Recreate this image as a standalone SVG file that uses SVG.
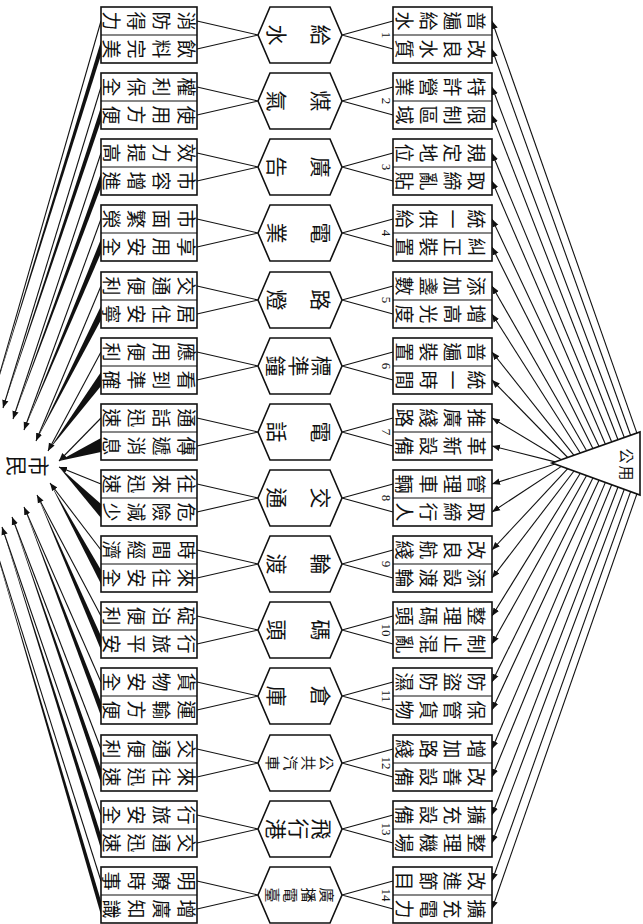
<svg xmlns="http://www.w3.org/2000/svg" width="643" height="924" viewBox="0 0 643 924">
<defs>
<style>
.bx{fill:#fff;stroke:#111;stroke-width:1.6}
.ln{fill:none;stroke:#111;stroke-width:1.1}
.c{font-family:"Noto Sans CJK TC","Noto Sans CJK SC",sans-serif;font-size:19px;text-anchor:middle;dominant-baseline:central;fill:#111}
.h{font-family:"Noto Sans CJK TC","Noto Sans CJK SC",sans-serif;font-size:21px;text-anchor:middle;dominant-baseline:central;fill:#111}
.hs{font-family:"Noto Sans CJK TC","Noto Sans CJK SC",sans-serif;font-size:15px;text-anchor:middle;dominant-baseline:central;fill:#111}
.n{font-family:"Liberation Serif",serif;font-size:13px;text-anchor:middle;dominant-baseline:central;fill:#111}
.w{fill:#111;stroke:none}
</style>
<marker id="ah" viewBox="0 0 10 10" refX="10" refY="5" markerWidth="8" markerHeight="8" orient="auto" markerUnits="userSpaceOnUse"><path d="M0,1 L10,5 L0,9 z" fill="#111"/></marker>
</defs>
<rect width="643" height="924" fill="#fff"/>

<g id="connectors">
<path class="ln" d="M197,21L258,35L197,49 M342,35L393,21 M342,35L393,49
M197,87L258,101L197,115 M342,101L393,87 M342,101L393,115
M197,153L258,167L197,181 M342,167L393,153 M342,167L393,181
M197,219L258,233L197,247 M342,233L393,219 M342,233L393,247
M197,286L258,300L197,314 M342,300L393,286 M342,300L393,314
M197,352L258,366L197,380 M342,366L393,352 M342,366L393,380
M197,418L258,432L197,446 M342,432L393,418 M342,432L393,446
M197,484L258,498L197,512 M342,498L393,484 M342,498L393,512
M197,550L258,564L197,578 M342,564L393,550 M342,564L393,578
M197,616L258,630L197,644 M342,630L393,616 M342,630L393,644
M197,682L258,696L197,710 M342,696L393,682 M342,696L393,710
M197,749L258,763L197,777 M342,763L393,749 M342,763L393,777
M197,815L258,829L197,843 M342,829L393,815 M342,829L393,843
M197,881L258,895L197,909 M342,895L393,881 M342,895L393,909"/>
<g class="ln" marker-end="url(#ah)">
<line x1="636.9" y1="433.1" x2="492" y2="21"/><line x1="630.6" y1="435.3" x2="492" y2="49"/>
<line x1="624.3" y1="437.5" x2="492" y2="87"/><line x1="618" y1="439.8" x2="492" y2="115"/>
<line x1="611.7" y1="442" x2="492" y2="153"/><line x1="605.4" y1="444.2" x2="492" y2="181"/>
<line x1="599.1" y1="446.4" x2="492" y2="219"/><line x1="592.9" y1="448.6" x2="492" y2="247"/>
<line x1="586.6" y1="450.8" x2="492" y2="286"/><line x1="580.3" y1="453" x2="492" y2="314"/>
<line x1="574" y1="455.3" x2="492" y2="352"/><line x1="567.7" y1="457.5" x2="492" y2="380"/>
<line x1="561.4" y1="459.7" x2="492" y2="418"/><line x1="555.1" y1="461.9" x2="492" y2="446"/>
<line x1="555.1" y1="464.1" x2="492" y2="484"/><line x1="561.4" y1="466.4" x2="492" y2="512"/>
<line x1="567.7" y1="468.7" x2="492" y2="550"/><line x1="574" y1="471" x2="492" y2="578"/>
<line x1="580.3" y1="473.3" x2="492" y2="616"/><line x1="586.6" y1="475.6" x2="492" y2="644"/>
<line x1="592.9" y1="477.9" x2="492" y2="682"/><line x1="599.1" y1="480.1" x2="492" y2="710"/>
<line x1="605.4" y1="482.4" x2="492" y2="749"/><line x1="611.7" y1="484.7" x2="492" y2="777"/>
<line x1="618" y1="487" x2="492" y2="815"/><line x1="624.3" y1="489.3" x2="492" y2="843"/>
<line x1="630.6" y1="491.6" x2="492" y2="881"/><line x1="636.9" y1="493.9" x2="492" y2="909"/>
</g>
<g class="ln" marker-end="url(#ah)">
<line x1="101" y1="21" x2="-7" y2="397"/>
<line x1="101" y1="87" x2="3" y2="408"/>
<line x1="101" y1="153" x2="13" y2="419"/>
<line x1="101" y1="219" x2="24" y2="430"/>
<line x1="101" y1="286" x2="36" y2="441"/>
<line x1="101" y1="352" x2="48" y2="451"/>
<line x1="101" y1="418" x2="59" y2="461"/>
<line x1="101" y1="484" x2="59" y2="467"/>
<line x1="101" y1="550" x2="50" y2="483"/>
<line x1="101" y1="616" x2="37" y2="495"/>
<line x1="101" y1="682" x2="24" y2="507"/>
<line x1="101" y1="749" x2="12" y2="517"/>
<line x1="101" y1="815" x2="2" y2="527"/>
<line x1="101" y1="881" x2="-8" y2="537"/>
</g>
<g class="w">
<polygon points="-7,397 101,41 101,55"/>
<polygon points="3,408 101,107 101,121"/>
<polygon points="13,419 101,173 101,187"/>
<polygon points="24,430 101,239 101,253"/>
<polygon points="36,441 101,306 101,320"/>
<polygon points="48,451 101,372 101,386"/>
<polygon points="59,461 101,438 101,452"/>
<polygon points="59,467 101,504 101,518"/>
<polygon points="50,483 101,570 101,584"/>
<polygon points="37,495 101,636 101,650"/>
<polygon points="24,507 101,702 101,716"/>
<polygon points="12,517 101,769 101,783"/>
<polygon points="2,527 101,835 101,849"/>
<polygon points="-8,537 101,901 101,915"/>
</g>
</g>

<g id="public-utilities">
<polygon class="bx" points="552,463 640,432 640,495"/>
<text class="hs" x="627" y="456" transform="rotate(90 627 456)">公</text>
<text class="hs" x="627" y="473" transform="rotate(90 627 473)">用</text>
</g>

<g id="citizens">
<text class="h" x="40" y="466" transform="rotate(90 40 466)">市</text>
<text class="h" x="18" y="466" transform="rotate(90 18 466)">民</text>
</g>

<g id="benefit-1" transform="translate(0,7)"><rect class="bx" x="101" y="0" width="96" height="56"/><line class="ln" x1="101" y1="28" x2="197" y2="28"/>
<text class="c" x="187" y="14" transform="rotate(90 187 14)">消</text><text class="c" x="162" y="14" transform="rotate(90 162 14)">防</text><text class="c" x="137" y="14" transform="rotate(90 137 14)">得</text><text class="c" x="112" y="14" transform="rotate(90 112 14)">力</text>
<text class="c" x="187" y="42" transform="rotate(90 187 42)">飲</text><text class="c" x="162" y="42" transform="rotate(90 162 42)">料</text><text class="c" x="137" y="42" transform="rotate(90 137 42)">完</text><text class="c" x="112" y="42" transform="rotate(90 112 42)">美</text></g>
<g id="utility-1" transform="translate(0,7)"><polygon class="bx" points="258,28 270,0 330,0 342,28 330,56 270,56"/>
<text class="h" x="322" y="28" transform="rotate(90 322 28)">給</text><text class="h" x="278" y="28" transform="rotate(90 278 28)">水</text></g>
<g id="measure-1" transform="translate(0,7)"><rect class="bx" x="393" y="0" width="99" height="56"/><line class="ln" x1="393" y1="28" x2="492" y2="28"/><text class="n" x="386" y="28" transform="rotate(90 386 28)">1</text>
<text class="c" x="477" y="14" transform="rotate(90 477 14)">普</text><text class="c" x="453" y="14" transform="rotate(90 453 14)">遍</text><text class="c" x="429" y="14" transform="rotate(90 429 14)">給</text><text class="c" x="405" y="14" transform="rotate(90 405 14)">水</text>
<text class="c" x="477" y="42" transform="rotate(90 477 42)">改</text><text class="c" x="453" y="42" transform="rotate(90 453 42)">良</text><text class="c" x="429" y="42" transform="rotate(90 429 42)">水</text><text class="c" x="405" y="42" transform="rotate(90 405 42)">質</text></g>

<g id="benefit-2" transform="translate(0,73)"><rect class="bx" x="101" y="0" width="96" height="56"/><line class="ln" x1="101" y1="28" x2="197" y2="28"/>
<text class="c" x="187" y="14" transform="rotate(90 187 14)">權</text><text class="c" x="162" y="14" transform="rotate(90 162 14)">利</text><text class="c" x="137" y="14" transform="rotate(90 137 14)">保</text><text class="c" x="112" y="14" transform="rotate(90 112 14)">全</text>
<text class="c" x="187" y="42" transform="rotate(90 187 42)">使</text><text class="c" x="162" y="42" transform="rotate(90 162 42)">用</text><text class="c" x="137" y="42" transform="rotate(90 137 42)">方</text><text class="c" x="112" y="42" transform="rotate(90 112 42)">便</text></g>
<g id="utility-2" transform="translate(0,73)"><polygon class="bx" points="258,28 270,0 330,0 342,28 330,56 270,56"/>
<text class="h" x="322" y="28" transform="rotate(90 322 28)">煤</text><text class="h" x="278" y="28" transform="rotate(90 278 28)">氣</text></g>
<g id="measure-2" transform="translate(0,73)"><rect class="bx" x="393" y="0" width="99" height="56"/><line class="ln" x1="393" y1="28" x2="492" y2="28"/><text class="n" x="386" y="28" transform="rotate(90 386 28)">2</text>
<text class="c" x="477" y="14" transform="rotate(90 477 14)">特</text><text class="c" x="453" y="14" transform="rotate(90 453 14)">許</text><text class="c" x="429" y="14" transform="rotate(90 429 14)">營</text><text class="c" x="405" y="14" transform="rotate(90 405 14)">業</text>
<text class="c" x="477" y="42" transform="rotate(90 477 42)">限</text><text class="c" x="453" y="42" transform="rotate(90 453 42)">制</text><text class="c" x="429" y="42" transform="rotate(90 429 42)">區</text><text class="c" x="405" y="42" transform="rotate(90 405 42)">域</text></g>

<g id="benefit-3" transform="translate(0,139)"><rect class="bx" x="101" y="0" width="96" height="56"/><line class="ln" x1="101" y1="28" x2="197" y2="28"/>
<text class="c" x="187" y="14" transform="rotate(90 187 14)">效</text><text class="c" x="162" y="14" transform="rotate(90 162 14)">力</text><text class="c" x="137" y="14" transform="rotate(90 137 14)">提</text><text class="c" x="112" y="14" transform="rotate(90 112 14)">高</text>
<text class="c" x="187" y="42" transform="rotate(90 187 42)">市</text><text class="c" x="162" y="42" transform="rotate(90 162 42)">容</text><text class="c" x="137" y="42" transform="rotate(90 137 42)">增</text><text class="c" x="112" y="42" transform="rotate(90 112 42)">進</text></g>
<g id="utility-3" transform="translate(0,139)"><polygon class="bx" points="258,28 270,0 330,0 342,28 330,56 270,56"/>
<text class="h" x="322" y="28" transform="rotate(90 322 28)">廣</text><text class="h" x="278" y="28" transform="rotate(90 278 28)">告</text></g>
<g id="measure-3" transform="translate(0,139)"><rect class="bx" x="393" y="0" width="99" height="56"/><line class="ln" x1="393" y1="28" x2="492" y2="28"/><text class="n" x="386" y="28" transform="rotate(90 386 28)">3</text>
<text class="c" x="477" y="14" transform="rotate(90 477 14)">規</text><text class="c" x="453" y="14" transform="rotate(90 453 14)">定</text><text class="c" x="429" y="14" transform="rotate(90 429 14)">地</text><text class="c" x="405" y="14" transform="rotate(90 405 14)">位</text>
<text class="c" x="477" y="42" transform="rotate(90 477 42)">取</text><text class="c" x="453" y="42" transform="rotate(90 453 42)">締</text><text class="c" x="429" y="42" transform="rotate(90 429 42)">亂</text><text class="c" x="405" y="42" transform="rotate(90 405 42)">貼</text></g>

<g id="benefit-4" transform="translate(0,205)"><rect class="bx" x="101" y="0" width="96" height="56"/><line class="ln" x1="101" y1="28" x2="197" y2="28"/>
<text class="c" x="187" y="14" transform="rotate(90 187 14)">市</text><text class="c" x="162" y="14" transform="rotate(90 162 14)">面</text><text class="c" x="137" y="14" transform="rotate(90 137 14)">繁</text><text class="c" x="112" y="14" transform="rotate(90 112 14)">榮</text>
<text class="c" x="187" y="42" transform="rotate(90 187 42)">享</text><text class="c" x="162" y="42" transform="rotate(90 162 42)">用</text><text class="c" x="137" y="42" transform="rotate(90 137 42)">安</text><text class="c" x="112" y="42" transform="rotate(90 112 42)">全</text></g>
<g id="utility-4" transform="translate(0,205)"><polygon class="bx" points="258,28 270,0 330,0 342,28 330,56 270,56"/>
<text class="h" x="322" y="28" transform="rotate(90 322 28)">電</text><text class="h" x="278" y="28" transform="rotate(90 278 28)">業</text></g>
<g id="measure-4" transform="translate(0,205)"><rect class="bx" x="393" y="0" width="99" height="56"/><line class="ln" x1="393" y1="28" x2="492" y2="28"/><text class="n" x="386" y="28" transform="rotate(90 386 28)">4</text>
<text class="c" x="477" y="14" transform="rotate(90 477 14)">統</text><text class="c" x="453" y="14" transform="rotate(90 453 14)">一</text><text class="c" x="429" y="14" transform="rotate(90 429 14)">供</text><text class="c" x="405" y="14" transform="rotate(90 405 14)">給</text>
<text class="c" x="477" y="42" transform="rotate(90 477 42)">糾</text><text class="c" x="453" y="42" transform="rotate(90 453 42)">正</text><text class="c" x="429" y="42" transform="rotate(90 429 42)">裝</text><text class="c" x="405" y="42" transform="rotate(90 405 42)">置</text></g>

<g id="benefit-5" transform="translate(0,272)"><rect class="bx" x="101" y="0" width="96" height="56"/><line class="ln" x1="101" y1="28" x2="197" y2="28"/>
<text class="c" x="187" y="14" transform="rotate(90 187 14)">交</text><text class="c" x="162" y="14" transform="rotate(90 162 14)">通</text><text class="c" x="137" y="14" transform="rotate(90 137 14)">便</text><text class="c" x="112" y="14" transform="rotate(90 112 14)">利</text>
<text class="c" x="187" y="42" transform="rotate(90 187 42)">居</text><text class="c" x="162" y="42" transform="rotate(90 162 42)">住</text><text class="c" x="137" y="42" transform="rotate(90 137 42)">安</text><text class="c" x="112" y="42" transform="rotate(90 112 42)">寧</text></g>
<g id="utility-5" transform="translate(0,272)"><polygon class="bx" points="258,28 270,0 330,0 342,28 330,56 270,56"/>
<text class="h" x="322" y="28" transform="rotate(90 322 28)">路</text><text class="h" x="278" y="28" transform="rotate(90 278 28)">燈</text></g>
<g id="measure-5" transform="translate(0,272)"><rect class="bx" x="393" y="0" width="99" height="56"/><line class="ln" x1="393" y1="28" x2="492" y2="28"/><text class="n" x="386" y="28" transform="rotate(90 386 28)">5</text>
<text class="c" x="477" y="14" transform="rotate(90 477 14)">添</text><text class="c" x="453" y="14" transform="rotate(90 453 14)">加</text><text class="c" x="429" y="14" transform="rotate(90 429 14)">盞</text><text class="c" x="405" y="14" transform="rotate(90 405 14)">數</text>
<text class="c" x="477" y="42" transform="rotate(90 477 42)">增</text><text class="c" x="453" y="42" transform="rotate(90 453 42)">高</text><text class="c" x="429" y="42" transform="rotate(90 429 42)">光</text><text class="c" x="405" y="42" transform="rotate(90 405 42)">度</text></g>

<g id="benefit-6" transform="translate(0,338)"><rect class="bx" x="101" y="0" width="96" height="56"/><line class="ln" x1="101" y1="28" x2="197" y2="28"/>
<text class="c" x="187" y="14" transform="rotate(90 187 14)">應</text><text class="c" x="162" y="14" transform="rotate(90 162 14)">用</text><text class="c" x="137" y="14" transform="rotate(90 137 14)">便</text><text class="c" x="112" y="14" transform="rotate(90 112 14)">利</text>
<text class="c" x="187" y="42" transform="rotate(90 187 42)">看</text><text class="c" x="162" y="42" transform="rotate(90 162 42)">到</text><text class="c" x="137" y="42" transform="rotate(90 137 42)">準</text><text class="c" x="112" y="42" transform="rotate(90 112 42)">確</text></g>
<g id="utility-6" transform="translate(0,338)"><polygon class="bx" points="258,28 270,0 330,0 342,28 330,56 270,56"/>
<text class="h" x="323" y="28" transform="rotate(90 323 28)">標</text><text class="h" x="300" y="28" transform="rotate(90 300 28)">準</text><text class="h" x="277" y="28" transform="rotate(90 277 28)">鐘</text></g>
<g id="measure-6" transform="translate(0,338)"><rect class="bx" x="393" y="0" width="99" height="56"/><line class="ln" x1="393" y1="28" x2="492" y2="28"/><text class="n" x="386" y="28" transform="rotate(90 386 28)">6</text>
<text class="c" x="477" y="14" transform="rotate(90 477 14)">普</text><text class="c" x="453" y="14" transform="rotate(90 453 14)">遍</text><text class="c" x="429" y="14" transform="rotate(90 429 14)">裝</text><text class="c" x="405" y="14" transform="rotate(90 405 14)">置</text>
<text class="c" x="477" y="42" transform="rotate(90 477 42)">統</text><text class="c" x="453" y="42" transform="rotate(90 453 42)">一</text><text class="c" x="429" y="42" transform="rotate(90 429 42)">時</text><text class="c" x="405" y="42" transform="rotate(90 405 42)">間</text></g>

<g id="benefit-7" transform="translate(0,404)"><rect class="bx" x="101" y="0" width="96" height="56"/><line class="ln" x1="101" y1="28" x2="197" y2="28"/>
<text class="c" x="187" y="14" transform="rotate(90 187 14)">通</text><text class="c" x="162" y="14" transform="rotate(90 162 14)">話</text><text class="c" x="137" y="14" transform="rotate(90 137 14)">迅</text><text class="c" x="112" y="14" transform="rotate(90 112 14)">速</text>
<text class="c" x="187" y="42" transform="rotate(90 187 42)">傳</text><text class="c" x="162" y="42" transform="rotate(90 162 42)">遞</text><text class="c" x="137" y="42" transform="rotate(90 137 42)">消</text><text class="c" x="112" y="42" transform="rotate(90 112 42)">息</text></g>
<g id="utility-7" transform="translate(0,404)"><polygon class="bx" points="258,28 270,0 330,0 342,28 330,56 270,56"/>
<text class="h" x="322" y="28" transform="rotate(90 322 28)">電</text><text class="h" x="278" y="28" transform="rotate(90 278 28)">話</text></g>
<g id="measure-7" transform="translate(0,404)"><rect class="bx" x="393" y="0" width="99" height="56"/><line class="ln" x1="393" y1="28" x2="492" y2="28"/><text class="n" x="386" y="28" transform="rotate(90 386 28)">7</text>
<text class="c" x="477" y="14" transform="rotate(90 477 14)">推</text><text class="c" x="453" y="14" transform="rotate(90 453 14)">廣</text><text class="c" x="429" y="14" transform="rotate(90 429 14)">綫</text><text class="c" x="405" y="14" transform="rotate(90 405 14)">路</text>
<text class="c" x="477" y="42" transform="rotate(90 477 42)">革</text><text class="c" x="453" y="42" transform="rotate(90 453 42)">新</text><text class="c" x="429" y="42" transform="rotate(90 429 42)">設</text><text class="c" x="405" y="42" transform="rotate(90 405 42)">備</text></g>

<g id="benefit-8" transform="translate(0,470)"><rect class="bx" x="101" y="0" width="96" height="56"/><line class="ln" x1="101" y1="28" x2="197" y2="28"/>
<text class="c" x="187" y="14" transform="rotate(90 187 14)">往</text><text class="c" x="162" y="14" transform="rotate(90 162 14)">來</text><text class="c" x="137" y="14" transform="rotate(90 137 14)">迅</text><text class="c" x="112" y="14" transform="rotate(90 112 14)">速</text>
<text class="c" x="187" y="42" transform="rotate(90 187 42)">危</text><text class="c" x="162" y="42" transform="rotate(90 162 42)">險</text><text class="c" x="137" y="42" transform="rotate(90 137 42)">減</text><text class="c" x="112" y="42" transform="rotate(90 112 42)">少</text></g>
<g id="utility-8" transform="translate(0,470)"><polygon class="bx" points="258,28 270,0 330,0 342,28 330,56 270,56"/>
<text class="h" x="322" y="28" transform="rotate(90 322 28)">交</text><text class="h" x="278" y="28" transform="rotate(90 278 28)">通</text></g>
<g id="measure-8" transform="translate(0,470)"><rect class="bx" x="393" y="0" width="99" height="56"/><line class="ln" x1="393" y1="28" x2="492" y2="28"/><text class="n" x="386" y="28" transform="rotate(90 386 28)">8</text>
<text class="c" x="477" y="14" transform="rotate(90 477 14)">管</text><text class="c" x="453" y="14" transform="rotate(90 453 14)">理</text><text class="c" x="429" y="14" transform="rotate(90 429 14)">車</text><text class="c" x="405" y="14" transform="rotate(90 405 14)">輛</text>
<text class="c" x="477" y="42" transform="rotate(90 477 42)">取</text><text class="c" x="453" y="42" transform="rotate(90 453 42)">締</text><text class="c" x="429" y="42" transform="rotate(90 429 42)">行</text><text class="c" x="405" y="42" transform="rotate(90 405 42)">人</text></g>

<g id="benefit-9" transform="translate(0,536)"><rect class="bx" x="101" y="0" width="96" height="56"/><line class="ln" x1="101" y1="28" x2="197" y2="28"/>
<text class="c" x="187" y="14" transform="rotate(90 187 14)">時</text><text class="c" x="162" y="14" transform="rotate(90 162 14)">間</text><text class="c" x="137" y="14" transform="rotate(90 137 14)">經</text><text class="c" x="112" y="14" transform="rotate(90 112 14)">濟</text>
<text class="c" x="187" y="42" transform="rotate(90 187 42)">來</text><text class="c" x="162" y="42" transform="rotate(90 162 42)">往</text><text class="c" x="137" y="42" transform="rotate(90 137 42)">安</text><text class="c" x="112" y="42" transform="rotate(90 112 42)">全</text></g>
<g id="utility-9" transform="translate(0,536)"><polygon class="bx" points="258,28 270,0 330,0 342,28 330,56 270,56"/>
<text class="h" x="322" y="28" transform="rotate(90 322 28)">輪</text><text class="h" x="278" y="28" transform="rotate(90 278 28)">渡</text></g>
<g id="measure-9" transform="translate(0,536)"><rect class="bx" x="393" y="0" width="99" height="56"/><line class="ln" x1="393" y1="28" x2="492" y2="28"/><text class="n" x="386" y="28" transform="rotate(90 386 28)">9</text>
<text class="c" x="477" y="14" transform="rotate(90 477 14)">改</text><text class="c" x="453" y="14" transform="rotate(90 453 14)">良</text><text class="c" x="429" y="14" transform="rotate(90 429 14)">航</text><text class="c" x="405" y="14" transform="rotate(90 405 14)">綫</text>
<text class="c" x="477" y="42" transform="rotate(90 477 42)">添</text><text class="c" x="453" y="42" transform="rotate(90 453 42)">設</text><text class="c" x="429" y="42" transform="rotate(90 429 42)">渡</text><text class="c" x="405" y="42" transform="rotate(90 405 42)">輪</text></g>

<g id="benefit-10" transform="translate(0,602)"><rect class="bx" x="101" y="0" width="96" height="56"/><line class="ln" x1="101" y1="28" x2="197" y2="28"/>
<text class="c" x="187" y="14" transform="rotate(90 187 14)">碇</text><text class="c" x="162" y="14" transform="rotate(90 162 14)">泊</text><text class="c" x="137" y="14" transform="rotate(90 137 14)">便</text><text class="c" x="112" y="14" transform="rotate(90 112 14)">利</text>
<text class="c" x="187" y="42" transform="rotate(90 187 42)">行</text><text class="c" x="162" y="42" transform="rotate(90 162 42)">旅</text><text class="c" x="137" y="42" transform="rotate(90 137 42)">平</text><text class="c" x="112" y="42" transform="rotate(90 112 42)">安</text></g>
<g id="utility-10" transform="translate(0,602)"><polygon class="bx" points="258,28 270,0 330,0 342,28 330,56 270,56"/>
<text class="h" x="322" y="28" transform="rotate(90 322 28)">碼</text><text class="h" x="278" y="28" transform="rotate(90 278 28)">頭</text></g>
<g id="measure-10" transform="translate(0,602)"><rect class="bx" x="393" y="0" width="99" height="56"/><line class="ln" x1="393" y1="28" x2="492" y2="28"/><text class="n" x="386" y="28" transform="rotate(90 386 28)">10</text>
<text class="c" x="477" y="14" transform="rotate(90 477 14)">整</text><text class="c" x="453" y="14" transform="rotate(90 453 14)">理</text><text class="c" x="429" y="14" transform="rotate(90 429 14)">碼</text><text class="c" x="405" y="14" transform="rotate(90 405 14)">頭</text>
<text class="c" x="477" y="42" transform="rotate(90 477 42)">制</text><text class="c" x="453" y="42" transform="rotate(90 453 42)">止</text><text class="c" x="429" y="42" transform="rotate(90 429 42)">混</text><text class="c" x="405" y="42" transform="rotate(90 405 42)">亂</text></g>

<g id="benefit-11" transform="translate(0,668)"><rect class="bx" x="101" y="0" width="96" height="56"/><line class="ln" x1="101" y1="28" x2="197" y2="28"/>
<text class="c" x="187" y="14" transform="rotate(90 187 14)">貨</text><text class="c" x="162" y="14" transform="rotate(90 162 14)">物</text><text class="c" x="137" y="14" transform="rotate(90 137 14)">安</text><text class="c" x="112" y="14" transform="rotate(90 112 14)">全</text>
<text class="c" x="187" y="42" transform="rotate(90 187 42)">運</text><text class="c" x="162" y="42" transform="rotate(90 162 42)">輸</text><text class="c" x="137" y="42" transform="rotate(90 137 42)">方</text><text class="c" x="112" y="42" transform="rotate(90 112 42)">便</text></g>
<g id="utility-11" transform="translate(0,668)"><polygon class="bx" points="258,28 270,0 330,0 342,28 330,56 270,56"/>
<text class="h" x="322" y="28" transform="rotate(90 322 28)">倉</text><text class="h" x="278" y="28" transform="rotate(90 278 28)">庫</text></g>
<g id="measure-11" transform="translate(0,668)"><rect class="bx" x="393" y="0" width="99" height="56"/><line class="ln" x1="393" y1="28" x2="492" y2="28"/><text class="n" x="386" y="28" transform="rotate(90 386 28)">11</text>
<text class="c" x="477" y="14" transform="rotate(90 477 14)">防</text><text class="c" x="453" y="14" transform="rotate(90 453 14)">盜</text><text class="c" x="429" y="14" transform="rotate(90 429 14)">防</text><text class="c" x="405" y="14" transform="rotate(90 405 14)">濕</text>
<text class="c" x="477" y="42" transform="rotate(90 477 42)">保</text><text class="c" x="453" y="42" transform="rotate(90 453 42)">管</text><text class="c" x="429" y="42" transform="rotate(90 429 42)">貨</text><text class="c" x="405" y="42" transform="rotate(90 405 42)">物</text></g>

<g id="benefit-12" transform="translate(0,735)"><rect class="bx" x="101" y="0" width="96" height="56"/><line class="ln" x1="101" y1="28" x2="197" y2="28"/>
<text class="c" x="187" y="14" transform="rotate(90 187 14)">交</text><text class="c" x="162" y="14" transform="rotate(90 162 14)">通</text><text class="c" x="137" y="14" transform="rotate(90 137 14)">便</text><text class="c" x="112" y="14" transform="rotate(90 112 14)">利</text>
<text class="c" x="187" y="42" transform="rotate(90 187 42)">來</text><text class="c" x="162" y="42" transform="rotate(90 162 42)">往</text><text class="c" x="137" y="42" transform="rotate(90 137 42)">迅</text><text class="c" x="112" y="42" transform="rotate(90 112 42)">速</text></g>
<g id="utility-12" transform="translate(0,735)"><polygon class="bx" points="258,28 270,0 330,0 342,28 330,56 270,56"/>
<text class="hs" x="327" y="28" transform="rotate(90 327 28)">公</text><text class="hs" x="309" y="28" transform="rotate(90 309 28)">共</text><text class="hs" x="291" y="28" transform="rotate(90 291 28)">汽</text><text class="hs" x="273" y="28" transform="rotate(90 273 28)">車</text></g>
<g id="measure-12" transform="translate(0,735)"><rect class="bx" x="393" y="0" width="99" height="56"/><line class="ln" x1="393" y1="28" x2="492" y2="28"/><text class="n" x="386" y="28" transform="rotate(90 386 28)">12</text>
<text class="c" x="477" y="14" transform="rotate(90 477 14)">增</text><text class="c" x="453" y="14" transform="rotate(90 453 14)">加</text><text class="c" x="429" y="14" transform="rotate(90 429 14)">路</text><text class="c" x="405" y="14" transform="rotate(90 405 14)">綫</text>
<text class="c" x="477" y="42" transform="rotate(90 477 42)">改</text><text class="c" x="453" y="42" transform="rotate(90 453 42)">善</text><text class="c" x="429" y="42" transform="rotate(90 429 42)">設</text><text class="c" x="405" y="42" transform="rotate(90 405 42)">備</text></g>

<g id="benefit-13" transform="translate(0,801)"><rect class="bx" x="101" y="0" width="96" height="56"/><line class="ln" x1="101" y1="28" x2="197" y2="28"/>
<text class="c" x="187" y="14" transform="rotate(90 187 14)">行</text><text class="c" x="162" y="14" transform="rotate(90 162 14)">旅</text><text class="c" x="137" y="14" transform="rotate(90 137 14)">安</text><text class="c" x="112" y="14" transform="rotate(90 112 14)">全</text>
<text class="c" x="187" y="42" transform="rotate(90 187 42)">交</text><text class="c" x="162" y="42" transform="rotate(90 162 42)">通</text><text class="c" x="137" y="42" transform="rotate(90 137 42)">迅</text><text class="c" x="112" y="42" transform="rotate(90 112 42)">速</text></g>
<g id="utility-13" transform="translate(0,801)"><polygon class="bx" points="258,28 270,0 330,0 342,28 330,56 270,56"/>
<text class="h" x="323" y="28" transform="rotate(90 323 28)">飛</text><text class="h" x="300" y="28" transform="rotate(90 300 28)">行</text><text class="h" x="277" y="28" transform="rotate(90 277 28)">港</text></g>
<g id="measure-13" transform="translate(0,801)"><rect class="bx" x="393" y="0" width="99" height="56"/><line class="ln" x1="393" y1="28" x2="492" y2="28"/><text class="n" x="386" y="28" transform="rotate(90 386 28)">13</text>
<text class="c" x="477" y="14" transform="rotate(90 477 14)">擴</text><text class="c" x="453" y="14" transform="rotate(90 453 14)">充</text><text class="c" x="429" y="14" transform="rotate(90 429 14)">設</text><text class="c" x="405" y="14" transform="rotate(90 405 14)">備</text>
<text class="c" x="477" y="42" transform="rotate(90 477 42)">整</text><text class="c" x="453" y="42" transform="rotate(90 453 42)">理</text><text class="c" x="429" y="42" transform="rotate(90 429 42)">機</text><text class="c" x="405" y="42" transform="rotate(90 405 42)">場</text></g>

<g id="benefit-14" transform="translate(0,867)"><rect class="bx" x="101" y="0" width="96" height="56"/><line class="ln" x1="101" y1="28" x2="197" y2="28"/>
<text class="c" x="187" y="14" transform="rotate(90 187 14)">明</text><text class="c" x="162" y="14" transform="rotate(90 162 14)">瞭</text><text class="c" x="137" y="14" transform="rotate(90 137 14)">時</text><text class="c" x="112" y="14" transform="rotate(90 112 14)">事</text>
<text class="c" x="187" y="42" transform="rotate(90 187 42)">增</text><text class="c" x="162" y="42" transform="rotate(90 162 42)">廣</text><text class="c" x="137" y="42" transform="rotate(90 137 42)">知</text><text class="c" x="112" y="42" transform="rotate(90 112 42)">識</text></g>
<g id="utility-14" transform="translate(0,867)"><polygon class="bx" points="258,28 270,0 330,0 342,28 330,56 270,56"/>
<text class="hs" x="327" y="28" transform="rotate(90 327 28)">廣</text><text class="hs" x="309" y="28" transform="rotate(90 309 28)">播</text><text class="hs" x="291" y="28" transform="rotate(90 291 28)">電</text><text class="hs" x="273" y="28" transform="rotate(90 273 28)">臺</text></g>
<g id="measure-14" transform="translate(0,867)"><rect class="bx" x="393" y="0" width="99" height="56"/><line class="ln" x1="393" y1="28" x2="492" y2="28"/><text class="n" x="386" y="28" transform="rotate(90 386 28)">14</text>
<text class="c" x="477" y="14" transform="rotate(90 477 14)">改</text><text class="c" x="453" y="14" transform="rotate(90 453 14)">進</text><text class="c" x="429" y="14" transform="rotate(90 429 14)">節</text><text class="c" x="405" y="14" transform="rotate(90 405 14)">目</text>
<text class="c" x="477" y="42" transform="rotate(90 477 42)">擴</text><text class="c" x="453" y="42" transform="rotate(90 453 42)">充</text><text class="c" x="429" y="42" transform="rotate(90 429 42)">電</text><text class="c" x="405" y="42" transform="rotate(90 405 42)">力</text></g>
</svg>
